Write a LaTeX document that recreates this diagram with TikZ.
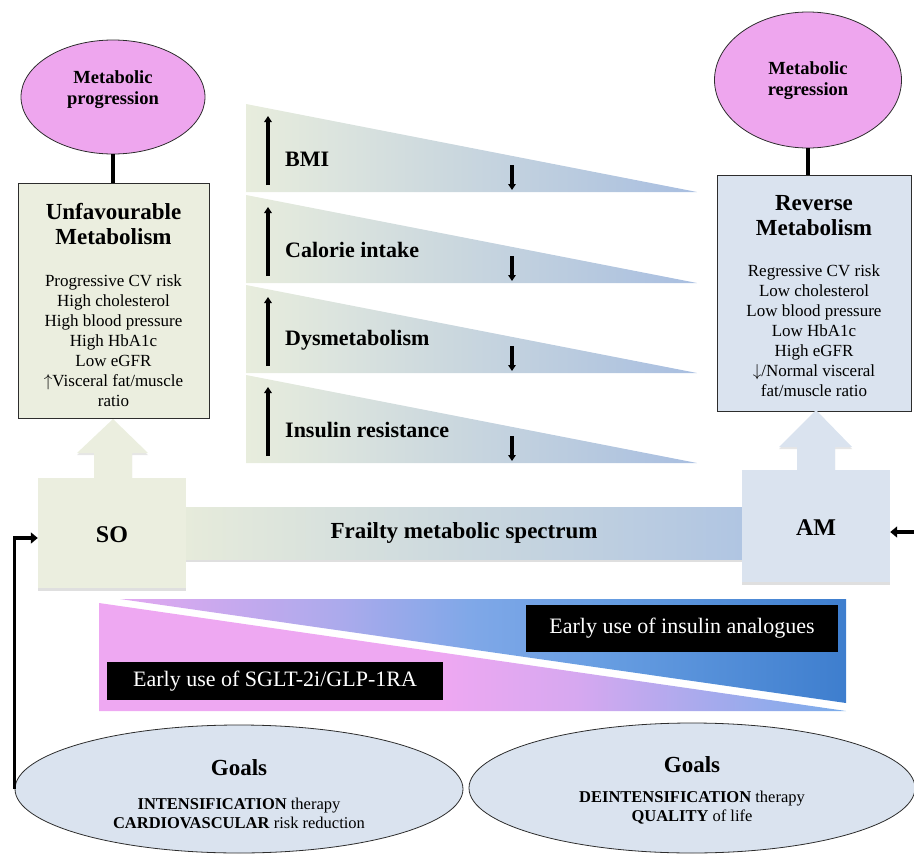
\documentclass[tikz,border=0pt]{standalone}
\usepackage{fontspec}
\setmainfont{Liberation Serif}
\usetikzlibrary{arrows.meta,shapes.geometric,shadows,calc}

\definecolor{pinkell}{RGB}{238,166,238}
\definecolor{greenbox}{RGB}{235,238,223}
\definecolor{bluebox}{RGB}{218,227,239}
\definecolor{gradL}{RGB}{232,237,221}
\definecolor{gradR}{RGB}{168,190,224}
\definecolor{barL}{RGB}{230,235,219}
\definecolor{barR}{RGB}{176,197,226}
\definecolor{edgec}{RGB}{45,45,45}
\definecolor{uA}{RGB}{226,168,240}
\definecolor{uB}{RGB}{172,170,236}
\definecolor{uC}{RGB}{128,168,232}
\definecolor{uD}{RGB}{104,158,226}
\definecolor{uE}{RGB}{62,126,206}
\definecolor{lA}{RGB}{238,168,242}
\definecolor{lB}{RGB}{214,168,240}
\definecolor{lC}{RGB}{170,170,237}
\definecolor{lD}{RGB}{122,172,234}

\pgfdeclarehorizontalshading{uppershade}{100bp}{color(0bp)=(uA); color(25bp)=(uA); color(40bp)=(uB); color(49bp)=(uC); color(58bp)=(uD); color(75bp)=(uE); color(100bp)=(uE)}
\pgfdeclarehorizontalshading{lowershade}{100bp}{color(0bp)=(lA); color(25bp)=(lA); color(48bp)=(lA); color(57bp)=(lB); color(65bp)=(lC); color(75bp)=(lD); color(100bp)=(lD)}

\tikzset{
  pinkoval/.style={ellipse, draw=edgec, line width=0.8pt, fill=pinkell, minimum width=184pt, minimum height=114pt, inner sep=0pt},
  goaloval/.style={ellipse, draw=edgec, line width=0.8pt, fill=bluebox, minimum width=448pt, minimum height=128pt, inner sep=0pt},
  infobox/.style={rectangle, draw=edgec, line width=0.9pt, inner sep=0pt},
  softbox/.style={rectangle, inner sep=0pt, drop shadow={shadow xshift=0pt, shadow yshift=-3pt, opacity=0.25}},
  blackbox/.style={rectangle, fill=black, inner sep=0pt, text=white, font=\fontsize{22}{24}\selectfont},
  ovaltext/.style={align=center, font=\bfseries\fontsize{18.5}{21}\selectfont, inner sep=0pt},
  titletext/.style={align=center, font=\bfseries\fontsize{23}{25}\selectfont, inner sep=0pt},
  bodytext/.style={align=center, font=\fontsize{17}{20}\selectfont, inner sep=0pt},
  trilabel/.style={anchor=west, font=\bfseries\fontsize{22}{24}\selectfont, inner sep=0pt},
  triarrow/.style={line width=3.6pt, -{Triangle[length=6pt,width=7.5pt]}},
  linkline/.style={line width=3.6pt},
  bigarrow/.style={line width=3.6pt, -{Triangle[length=7pt,width=11pt]}},
}

\begin{document}
\begin{tikzpicture}[x=1pt,y=-1pt]
\useasboundingbox (0,0) rectangle (914,854);

% ---------- Left column ----------
\node[pinkoval] (prog) at (113,97) {};
\node[ovaltext] (progt) at (113,90) {Metabolic\\progression};
\node[infobox, fill=greenbox, minimum width=191pt, minimum height=235pt] (unfav) at (113.5,300.5) {};
\node[titletext] (unfavt) at (113.5,224) {Unfavourable\\Metabolism};
\node[bodytext] (unfavb) at (113.5,341) {Progressive CV risk\\High cholesterol\\High blood pressure\\High HbA1c\\Low eGFR\\$\uparrow$Visceral fat/muscle\\ratio};
\draw[linkline] (prog.south) -- (prog.south |- unfav.north);

% ---------- Right column ----------
\node[pinkoval, minimum width=187pt, minimum height=136pt] (regr) at (808,80) {};
\node[ovaltext] (regrt) at (808,81) {Metabolic\\regression};
\node[infobox, fill=bluebox, minimum width=194pt, minimum height=236pt] (rev) at (814,293) {};
\node[titletext] (revt) at (814,216) {Reverse\\Metabolism};
\node[bodytext] (revb) at (814,331) {Regressive CV risk\\Low cholesterol\\Low blood pressure\\Low HbA1c\\High eGFR\\$\downarrow$/Normal visceral\\fat/muscle ratio};
\draw[linkline] (regr.south) -- (regr.south |- rev.north);

% ---------- Triangles ----------
\foreach \t/\lab [count=\i] in {104/BMI, 195/Calorie intake, 285/Dysmetabolism, 375/Insulin resistance} {
  \shade[left color=gradL, right color=gradR] (246,\t) -- (697,\t+88) -- (246,\t+88) -- cycle;
  \node[trilabel] (tl\i) at (285,\t+55) {\lab};
  \coordinate (upb\i) at (268,\t+81);
  \coordinate (upt\i) at (268,\t+12);
  \draw[triarrow] (upb\i) -- (upt\i);
  \coordinate (dnt\i) at (512,\t+61);
  \coordinate (dnb\i) at (512,\t+86);
  \draw[triarrow] (dnt\i) -- (dnb\i);
}

% ---------- Spectrum bar ----------
\shade[left color=barL, right color=barR, drop shadow={shadow xshift=0pt, shadow yshift=-3pt, opacity=0.25}] (186,507) rectangle (742,559);
\node[font=\bfseries\fontsize{23}{25}\selectfont, inner sep=0pt] (frail) at (464,533) {Frailty metabolic spectrum};

% block arrows
\fill[greenbox, drop shadow={shadow xshift=0pt, shadow yshift=-2pt, opacity=0.2}] (113,419) -- (148,453) -- (132,453) -- (132,480) -- (94,480) -- (94,453) -- (77,453) -- cycle;
\fill[bluebox, drop shadow={shadow xshift=0pt, shadow yshift=-2pt, opacity=0.2}] (816,410) -- (852,447) -- (835,447) -- (835,472) -- (797,472) -- (797,447) -- (779,447) -- cycle;

\node[softbox, fill=greenbox, minimum width=148pt, minimum height=110pt] (so) at (112,533) {};
\node[font=\bfseries\fontsize{24}{26}\selectfont, inner sep=0pt] (sot) at (112,535) {SO};
\node[softbox, fill=bluebox, minimum width=148pt, minimum height=112pt] (am) at (816,526) {};
\node[font=\bfseries\fontsize{24}{26}\selectfont, inner sep=0pt] (amt) at (816,528) {AM};

% ---------- Therapy panel ----------
\shade[shading=uppershade] (120,599) -- (846,599) -- (846,703) -- cycle;
\shade[shading=lowershade] (99,603) -- (846,711) -- (99,711) -- cycle;
\node[blackbox, minimum width=312pt, minimum height=47pt] (ins) at (682,628.5) {Early use of insulin analogues};
\node[blackbox, minimum width=336pt, minimum height=38pt] (sglt) at (275,681) {Early use of SGLT-2i/GLP-1RA};

% ---------- Goals ----------
\node[goaloval] (goalL) at (239,789) {};
\node[font=\bfseries\fontsize{23}{25}\selectfont, inner sep=0pt] (goalLt) at (239,768) {Goals};
\node[align=center, font=\fontsize{16.5}{19}\selectfont, inner sep=0pt] (goalLb) at (239,813) {\textbf{INTENSIFICATION} therapy\\\textbf{CARDIOVASCULAR} risk reduction};
\node[goaloval, minimum width=446pt, minimum height=130pt] (goalR) at (692,788) {};
\node[font=\bfseries\fontsize{23}{25}\selectfont, inner sep=0pt] (goalRt) at (692,765) {Goals};
\node[align=center, font=\fontsize{16.5}{19}\selectfont, inner sep=0pt] (goalRb) at (692,808) {\textbf{DEINTENSIFICATION} therapy\\\textbf{QUALITY} of life};

% ---------- Feedback arrows ----------
\draw[bigarrow] (goalL.west) |- ([yshift=-5pt]so.west);
\coordinate (rin) at (916,532);
\draw[bigarrow] (rin) -- (rin -| am.east);
\end{tikzpicture}
\end{document}
